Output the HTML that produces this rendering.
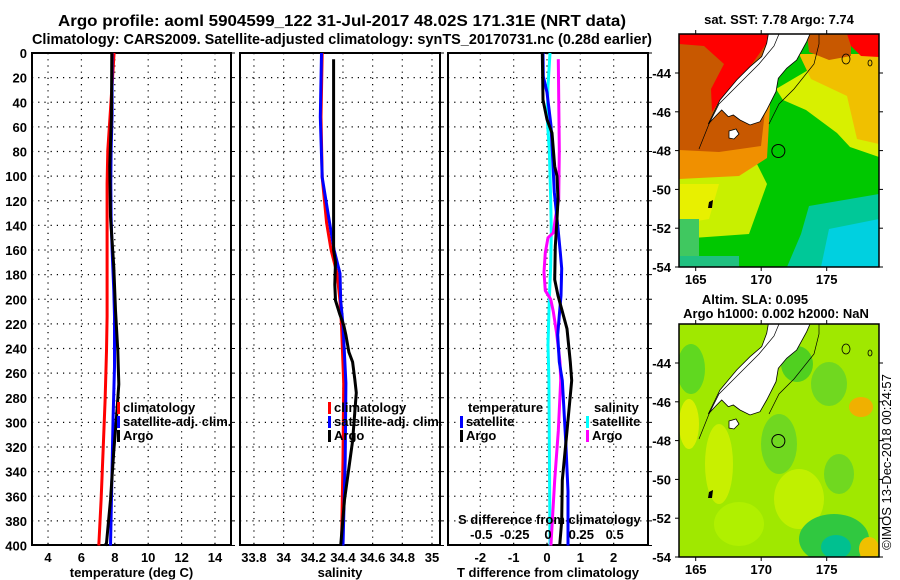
<!DOCTYPE html>
<html><head><meta charset="utf-8"><style>
body{margin:0;background:#fff;}
svg{display:block;font-family:"Liberation Sans",sans-serif;font-weight:bold;}
</style></head><body>
<svg id="chart" width="900" height="580" viewBox="0 0 900 580" xmlns="http://www.w3.org/2000/svg">
<text x="58" y="26" font-size="16" textLength="568" lengthAdjust="spacingAndGlyphs">Argo profile: aoml 5904599_122 31-Jul-2017 48.02S 171.31E (NRT data)</text>
<text x="32" y="44" font-size="15" textLength="620" lengthAdjust="spacingAndGlyphs">Climatology: CARS2009. Satellite-adjusted climatology: synTS_20170731.nc (0.28d earlier)</text>
<g id="panels"></g>
<g id="maps"></g>
<text transform="translate(891,462) rotate(-90)" font-size="13" font-weight="normal" text-anchor="middle">©IMOS 13-Dec-2018 00:24:57</text>
</svg>
<script>
// ---- data ----
const pressureTicks = [0,20,40,60,80,100,120,140,160,180,200,220,240,260,280,300,320,340,360,380,400];
const tempTicks = [4,6,8,10,12,14];
const salTicks = [33.8,34,34.2,34.4,34.6,34.8,35];
const salTickLabels = ["33.8","34","34.2","34.4","34.6","34.8","35"];
const dtTicks = [-2,-1,0,1,2];
const dsTicks = [-0.5,-0.25,0,0.25,0.5];
const dsTickLabels = ["-0.5","-0.25","0","0.25","0.5"];

const tClimP = [0,46,79,106,160,214,242,282,323,363,400];
const tClimV = [7.96,7.74,7.58,7.54,7.54,7.54,7.5,7.42,7.3,7.18,7.04];
const tSatP = [0,50,79,106,133,160,193,214,255,296,336,377,400];
const tSatV = [7.84,7.84,7.78,7.76,7.78,7.84,7.94,7.98,7.98,7.9,7.84,7.78,7.74];
const tArgoP = [0,50,92,133,174,209,242,269,296,323,363,398,400];
const tArgoV = [7.82,7.8,7.7,7.74,7.94,8.04,8.18,8.24,8.1,7.94,7.74,7.5,7.42];

const sClimP = [0,52,101,138,160,179,201,221,268,330,400];
const sClimV = [34.26,34.252,34.26,34.29,34.32,34.36,34.38,34.39,34.405,34.4,34.39];
const sSatP = [0,52,101,138,160,179,201,221,268,330,400];
const sSatV = [34.255,34.247,34.26,34.31,34.34,34.38,34.385,34.40,34.42,34.415,34.40];
const sArgoP = [5,160,170,188,201,212,221,229,243,251,265,276,315,363,400];
const sArgoV = [34.337,34.337,34.35,34.345,34.35,34.378,34.405,34.42,34.44,34.465,34.48,34.49,34.465,34.41,34.385];

const dtSatP = [0,19,32,59,86,113,140,162,175,197,213,229,251,266,315,356,400];
const dtSatV = [-0.12,-0.11,0,0.12,0.17,0.22,0.32,0.4,0.44,0.42,0.37,0.32,0.37,0.46,0.56,0.63,0.63];
const dtArgoP = [0,38,54,65,92,100,119,135,157,184,197,209,224,251,266,307,347,380,400];
const dtArgoV = [-0.14,-0.12,0,0.15,0.23,0.3,0.33,0.3,0.25,0.23,0.33,0.45,0.6,0.7,0.74,0.6,0.46,0.44,0.38];
const dsSatP = [0,27,54,79,119,146,173,200,237,266,400];
const dsSatV = [0.015,0,-0.005,0.01,0.02,0.025,0.02,0.01,0,0.007,0.015];
const dsArgoP = [5,79,119,133,146,150,162,178,193,200,210,228,251,266,307,347,400];
const dsArgoV = [0.077,0.085,0.08,0.057,0.04,0,-0.02,-0.03,-0.02,0.02,0.04,0.065,0.09,0.095,0.077,0.05,0.022];

const mapLatTicks = [-44,-46,-48,-50,-52,-54];
const mapLonTicks = [165,170,175];
const argoLon = 171.31, argoLat = -48.02;

// ---- helpers ----
const NS="http://www.w3.org/2000/svg";
function mk(tag, attrs, parent){const e=document.createElementNS(NS,tag);for(const k in attrs)e.setAttribute(k,attrs[k]);parent.appendChild(e);return e;}
const Y0=53, Y1=545;
const yP = p => Y0 + (p/400)*(Y1-Y0+0.5);
const panelsG=document.getElementById('panels');

function panel(name,x0,x1,dmin,dmax,ticks,labels,xlabel){
  const g=mk('g',{},panelsG);
  
  
  const sx = v => x0 + (v-dmin)/(dmax-dmin)*(x1-x0);
  pressureTicks.forEach(p=>{
    if(p>0&&p<400){const l=mk('line',{x1:x0,x2:x1,y1:yP(p),y2:yP(p),stroke:'#000','stroke-width':1.2,'stroke-dasharray':'1.2,5'},g);
    
    }
    mk('line',{x1:x1,x2:x1+4,y1:yP(p),y2:yP(p),stroke:'#000','stroke-width':1},g);
  });
  ticks.forEach((t,i)=>{
    const x=sx(t);
    const l=mk('line',{x1:x,x2:x,y1:Y0,y2:Y1,stroke:'#000','stroke-width':1.2,'stroke-dasharray':'1.2,5'},g);
    
    
    if(labels){const tx=mk('text',{x:x,y:562,'font-size':13,'text-anchor':'middle'},g);tx.textContent=labels[i];
    
    }
  });
  const xl=mk('text',{x:(x0+x1)/2,y:577,'font-size':13,'text-anchor':'middle'},g);xl.textContent=xlabel;
  
  
  mk('rect',{x:x0,y:Y0,width:x1-x0,height:Y1-Y0,fill:'none',stroke:'#000','stroke-width':2},g);
  return {g,sx};
}
function series(pn,P,V,color,name,sx){
  const pts=P.map((p,i)=>sx(V[i]).toFixed(1)+','+yP(p).toFixed(1)).join(' ');
  const l=mk('polyline',{points:pts,fill:'none',stroke:color,'stroke-width':3},pn.g);
  
  
}
function legend(g,x,y,color,label,name){
  mk('rect',{x:x,y:y-10,width:3,height:12,fill:color},g);
  const t=mk('text',{x:x+6,y:y,'font-size':13},g);t.textContent=label;
  
  
}

pressureTicks.forEach(p=>{
  const t=mk('text',{x:27,y:yP(p)+5,'font-size':13,'text-anchor':'end'},panelsG);t.textContent=p;
  
  
});

const p1=panel('temperature-panel',32,231,3.04,14.96,tempTicks,tempTicks.map(String),'temperature (deg C)');
series(p1,tClimP,tClimV,'#f00','temp-climatology-line',p1.sx);
series(p1,tSatP,tSatV,'#00f','temp-satellite-line',p1.sx);
series(p1,tArgoP,tArgoV,'#000','temp-argo-line',p1.sx);
legend(p1.g,117,412,'#f00','climatology','legend-climatology');
legend(p1.g,117,426,'#00f','satellite-adj. clim.','legend-satellite-adj');
legend(p1.g,117,440,'#000','Argo','legend-argo');

const p2=panel('salinity-panel',240,440,33.706,35.054,salTicks,salTickLabels,'salinity');
series(p2,sClimP,sClimV,'#f00','sal-climatology-line',p2.sx);
series(p2,sSatP,sSatV,'#00f','sal-satellite-line',p2.sx);
series(p2,sArgoP,sArgoV,'#000','sal-argo-line',p2.sx);
legend(p2.g,328,412,'#f00','climatology','legend-climatology');
legend(p2.g,328,426,'#00f','satellite-adj. clim.','legend-satellite-adj');
legend(p2.g,328,440,'#000','Argo','legend-argo');

const p3=panel('difference-panel',448,648,-2.97,3.03,dtTicks,dtTicks.map(String),'T difference from climatology');
const sxS = v => 548 + v*133.3;
series(p3,dsSatP,dsSatV,'#0ff','ds-satellite-line',sxS);
series(p3,dsArgoP,dsArgoV,'#f0f','ds-argo-line',sxS);
series(p3,dtSatP,dtSatV,'#00f','dt-satellite-line',p3.sx);
series(p3,dtArgoP,dtArgoV,'#000','dt-argo-line',p3.sx);
{const t=mk('text',{x:468,y:412,'font-size':13},p3.g);t.textContent='temperature';

}
legend(p3.g,460,426,'#00f','satellite','legend-t-satellite');
legend(p3.g,460,440,'#000','Argo','legend-t-argo');
{const t=mk('text',{x:594,y:412,'font-size':13},p3.g);t.textContent='salinity';

}
legend(p3.g,586,426,'#0ff','satellite','legend-s-satellite');
legend(p3.g,586,440,'#f0f','Argo','legend-s-argo');
{const t=mk('text',{x:458,y:524,'font-size':13},p3.g);t.textContent='S difference from climatology';

}
dsTicks.forEach((v,i)=>{const t=mk('text',{x:sxS(v),y:539,'font-size':13,'text-anchor':'middle'},p3.g);t.textContent=dsTickLabels[i];

});

// ---- maps ----
const mapsG=document.getElementById('maps');
const land="89.3,0 131,0 127.7,7.7 117.7,26 107.7,34.3 99.3,44.3 97,57.7 87.7,76 81,87.7 71,91 61,86 54.3,81 49.3,82.7 42.7,76 37.7,81 29.3,90 41,66 57.7,46 71,32.7 82.7,22.7 87.7,9.3";
const stewart="50,97 57,95 60,100 55,105 50,104";
function map(name,ox,oy,layers,title,titleLines){
  const g=mk('g',{transform:`translate(${ox},${oy})`},mapsG);
  
  
  const cid=name+'-clip';
  const cp=mk('clipPath',{id:cid},g);mk('rect',{x:0,y:0,width:200,height:233},cp);
  const inner=mk('g',{'clip-path':`url(#${cid})`},g);
  layers.forEach(L=>{ if(L[0]==='r') mk('rect',{x:L[1],y:L[2],width:L[3],height:L[4],fill:L[5]},inner);
    else if(L[0]==='e') mk('ellipse',{cx:L[1],cy:L[2],rx:L[3],ry:L[4],fill:L[5]},inner);
    else mk('polygon',{points:L[1],fill:L[2]},inner);});
  mk('polygon',{points:land,fill:'#fff',stroke:'#000','stroke-width':0.8},inner);
  mk('polygon',{points:stewart,fill:'#fff',stroke:'#000','stroke-width':0.8},inner);
  mk('polyline',{points:"20,115 30,90 40,70 60,50 80,30 95,12 100,0",fill:'none',stroke:'#000','stroke-width':0.7},inner);
  mk('polyline',{points:"90,90 100,70 115,55 135,30 140,10 140,0",fill:'none',stroke:'#000','stroke-width':0.7},inner);
  mk('ellipse',{cx:167,cy:25,rx:4,ry:5,fill:'none',stroke:'#000','stroke-width':0.8},inner);
  mk('ellipse',{cx:191,cy:29,rx:2,ry:3,fill:'none',stroke:'#000','stroke-width':0.8},inner);
  mk('polygon',{points:"30,168 34,166 33,174 29,174",fill:'#000'},inner);
  const lx=v=>16.7+(v-165)*13.1, ly=v=>39+(-44-v)*19.4;
  const c=mk('circle',{cx:lx(argoLon),cy:ly(argoLat),r:6.5,fill:'none',stroke:'#000','stroke-width':1},inner);
  
  
  mk('rect',{x:0,y:0,width:200,height:233,fill:'none',stroke:'#000','stroke-width':1.5},g);
  mapLatTicks.forEach(v=>{mk('line',{x1:-4,x2:0,y1:ly(v),y2:ly(v),stroke:'#000'},g);mk('line',{x1:200,x2:204,y1:ly(v),y2:ly(v),stroke:'#000'},g);
    const t=mk('text',{x:-8,y:ly(v)+5,'font-size':13,'text-anchor':'end'},g);t.textContent=v;
    
    });
  mapLonTicks.forEach(v=>{mk('line',{x1:lx(v),x2:lx(v),y1:233,y2:237,stroke:'#000'},g);mk('line',{x1:lx(v),x2:lx(v),y1:-4,y2:0,stroke:'#000'},g);
    const t=mk('text',{x:lx(v),y:250,'font-size':13,'text-anchor':'middle'},g);t.textContent=v;
    
    });
  titleLines.forEach((s,i)=>{const t=mk('text',{x:s[1],y:s[2],'font-size':13,'text-anchor':'middle'},g);t.textContent=s[0];
    
    });
}
map('sst-map',679,34,[
  ['r',0,0,200,233,'#00c800'],
  ['p',"0,128 75,124 88,150 70,200 0,205",'#c8f000'],
  ['p',"0,150 40,150 30,185 0,190",'#e8f000'],
  ['p',"97,55 131,35 200,30 200,123 171,113 158,99 127,76 104,66",'#d8f000'],
  ['p',"120,20 200,20 200,110 178,105 168,62 132,45",'#f0c000'],
  ['p',"0,0 95,0 88,124 60,142 0,145",'#f09000'],
  ['p',"0,0 95,0 82,112 40,118 0,116",'#c85800'],
  ['p',"128,0 172,0 172,22 150,26 130,18",'#c85800'],
  ['p',"0,0 89,0 87.7,9.3 71,32.7 57.7,46 41,66 33,78 32,55 45,30 25,12 0,10",'#ff0000'],
  ['p',"168,0 200,0 200,23 182,22 172,12",'#ff0000'],
  ['p',"130,172 200,160 200,233 108,233 122,200",'#00c898'],
  ['p',"150,195 200,185 200,233 142,233",'#00d0e0'],
  ['r',0,185,20,48,'#40c860'],
  ['r',0,222,60,11,'#20c080']
],'sst-map-title',[['sat. SST: 7.78 Argo: 7.74',100,-10]]);
map('sla-map',679,324,[
  ['r',0,0,200,233,'#a0e800'],
  ['e',12,45,14,25,'#60d820'],['e',40,140,14,40,'#c8f000'],['e',10,100,10,25,'#d8f000'],
  ['e',100,120,18,30,'#70d820'],['e',150,60,18,22,'#70d820'],['e',182,83,12,10,'#f0b000'],
  ['e',120,175,25,30,'#c0f000'],['e',60,200,25,22,'#b0f000'],['e',160,150,15,20,'#70d820'],
  ['e',155,215,35,25,'#30c840'],['e',157,223,15,12,'#00c090'],['e',190,225,10,12,'#f0c000'],
  ['e',75,60,20,15,'#60d020'],['e',118,40,16,18,'#50d020']
],'sla-map-title',[['Altim. SLA: 0.095',76,-20],['Argo h1000: 0.002 h2000: NaN',97,-6]]);
</script>
</body></html>
